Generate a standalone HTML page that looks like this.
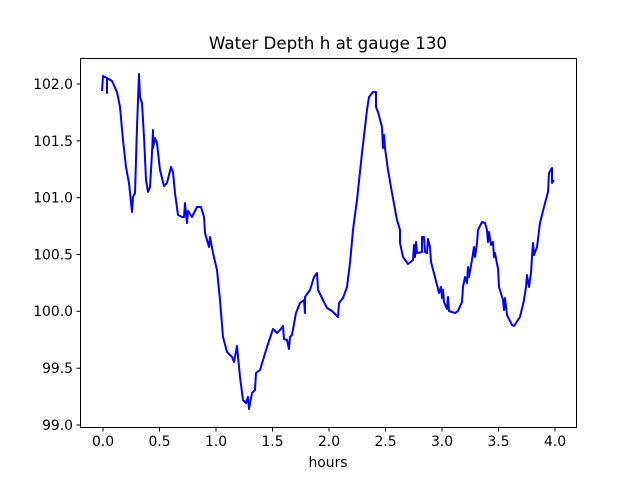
<!DOCTYPE html>
<html><head><meta charset="utf-8"><style>
html,body{margin:0;padding:0;background:#fff}
svg{display:block}
text{font-family:"DejaVu Sans","Liberation Sans",sans-serif;fill:#000}
</style></head><body>
<svg width="640" height="480" viewBox="0 0 640 480" xmlns="http://www.w3.org/2000/svg">
<rect width="640" height="480" fill="#fff"/>
<text x="328" y="49" font-size="16.7" text-anchor="middle">Water Depth h at gauge 130</text>
<polyline fill="none" stroke="#0000ff" stroke-width="2" stroke-linejoin="round" points="
102,91 103,76 107,78 107,93 107,78 112,81 117,92 120,107 123,140 126,167 129,183 132,212 133,197 135,193 137,127 139,74 140,97 142,103 144,137 146,180 148,192 150,187 152,153 153,130 153,148 155,138 157,143 160,170 164,186 167,183 171,167 173,172 175,193 178,215 182,217 184,217 185,203 187,223 188,211 192,217 197,207 201,207 204,217 205,233 209,247 210,237 213,253 217,270 220,300 223,337 227,352 232,357 234,362 237,346 240,377 243,400 246,403 248,397 249,409 252,393 255,390 256,373 260,370 267,347 273,329 277,333 280,330 283,326 284,339 287,340 289,349 290,337 292,335 296,313 300,303 304,300 305,313 305,297 310,290 314,277 317,273 318,290 322,298 327,308 332,311 338,317 339,303 343,298 347,287 350,263 353,230 357,200 362,153 367,110 369,97 373,92 376,92 376,107 378,112 382,127 383,148 384,135 385,148 388,170 392,193 397,220 400,230 400,243 403,257 408,264 413,260 414,245 415,257 416,242 417,253 422,252 422,237 424,237 425,252 427,253 428,239 430,247 431,262 435,277 439,293 441,287 442,298 443,290 444,302 447,309 448,297 449,311 455,313 458,311 462,302 463,287 465,277 467,283 468,267 469,277 472,260 474,247 475,257 477,243 478,230 482,222 485,223 487,230 488,242 489,232 491,245 493,242 494,257 495,253 497,264 498,268 499,287 503,300 504,310 505,298 507,315 512,325 514,326 520,317 524,300 526,287 527,275 529,287 531,273 532,257 533,243 534,255 537,247 540,223 544,207 548,192 549,173 552,168 552,183 554,180"/>
<rect x="80.5" y="58.5" width="496" height="369" fill="none" stroke="#000" stroke-width="1"/>
<g stroke="#000" stroke-width="1">
<line x1="103" y1="427.5" x2="103" y2="431.5"/><line x1="159.5" y1="427.5" x2="159.5" y2="431.5"/><line x1="216" y1="427.5" x2="216" y2="431.5"/><line x1="272.5" y1="427.5" x2="272.5" y2="431.5"/><line x1="329" y1="427.5" x2="329" y2="431.5"/><line x1="385.5" y1="427.5" x2="385.5" y2="431.5"/><line x1="442" y1="427.5" x2="442" y2="431.5"/><line x1="498.5" y1="427.5" x2="498.5" y2="431.5"/><line x1="555" y1="427.5" x2="555" y2="431.5"/>
<line x1="76.5" y1="425" x2="80.5" y2="425"/><line x1="76.5" y1="368.2" x2="80.5" y2="368.2"/><line x1="76.5" y1="311.3" x2="80.5" y2="311.3"/><line x1="76.5" y1="254.5" x2="80.5" y2="254.5"/><line x1="76.5" y1="197.7" x2="80.5" y2="197.7"/><line x1="76.5" y1="140.8" x2="80.5" y2="140.8"/><line x1="76.5" y1="84" x2="80.5" y2="84"/>
</g>
<g font-size="13.9" text-anchor="middle">
<text x="103" y="446">0.0</text><text x="159.5" y="446">0.5</text><text x="216" y="446">1.0</text><text x="272.5" y="446">1.5</text><text x="329" y="446">2.0</text><text x="385.5" y="446">2.5</text><text x="442" y="446">3.0</text><text x="498.5" y="446">3.5</text><text x="555" y="446">4.0</text>
</g>
<g font-size="13.9" text-anchor="end">
<text x="73" y="430">99.0</text><text x="73" y="373">99.5</text><text x="73" y="316">100.0</text><text x="73" y="259.5">100.5</text><text x="73" y="202.5">101.0</text><text x="73" y="145.8">101.5</text><text x="73" y="89">102.0</text>
</g>
<text x="328" y="467" font-size="13.9" text-anchor="middle">hours</text>
</svg>
</body></html>
